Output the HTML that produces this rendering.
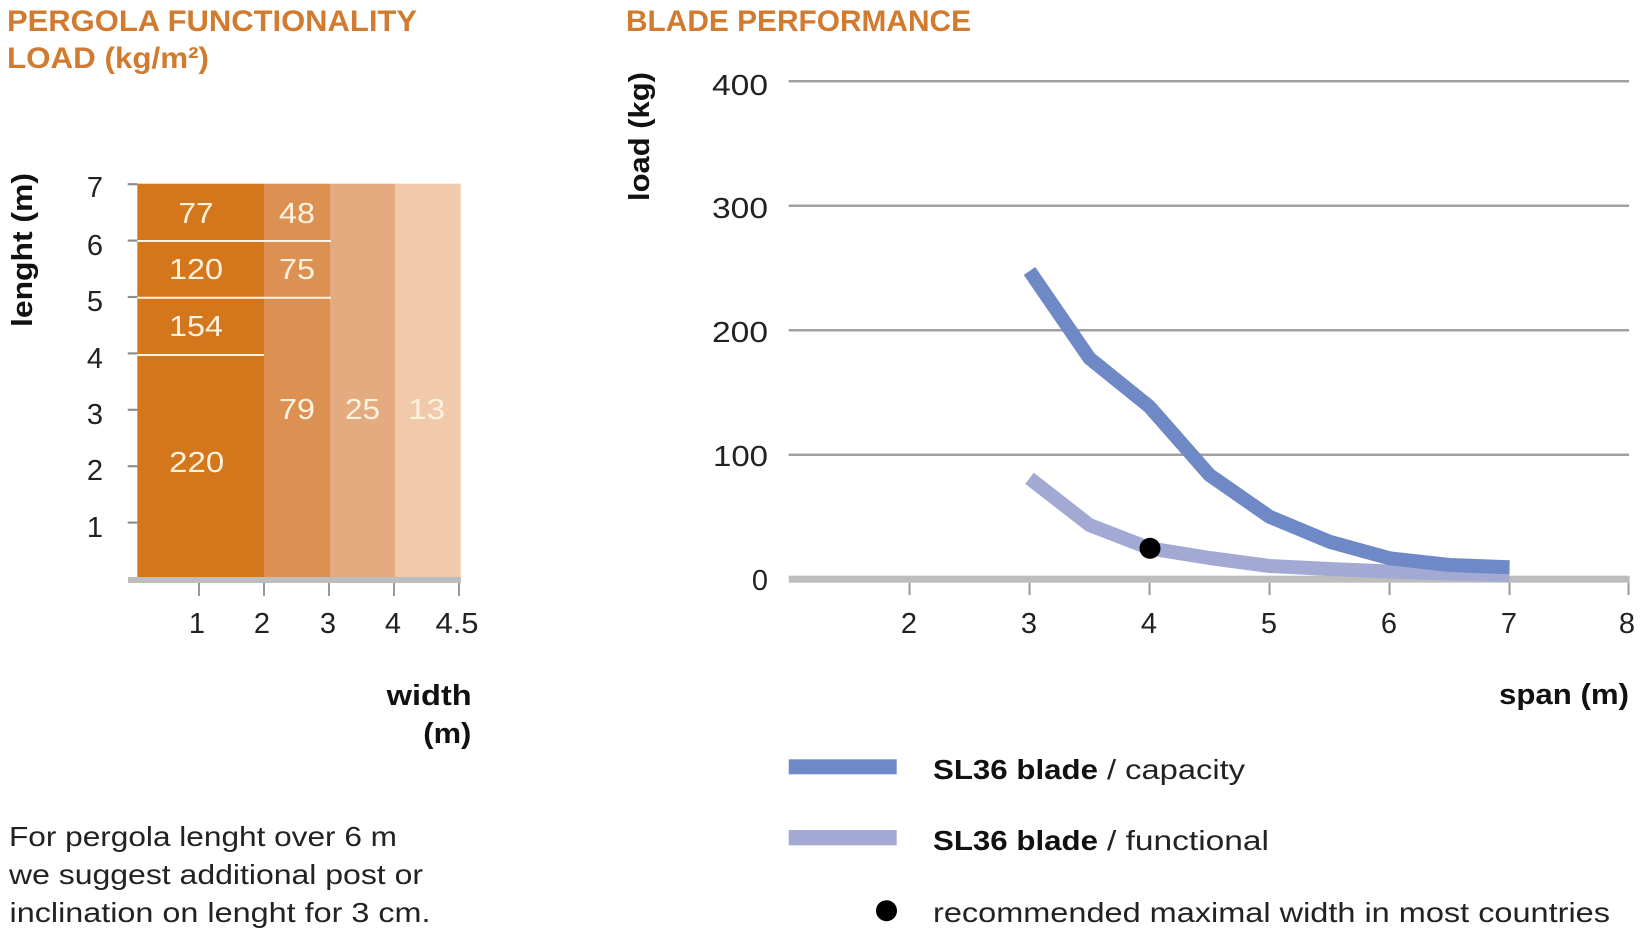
<!DOCTYPE html>
<html>
<head>
<meta charset="utf-8">
<style>
html,body{margin:0;padding:0;background:#fff;}
svg{display:block;}
text{font-family:"Liberation Sans",sans-serif;}
</style>
</head>
<body>
<svg width="1642" height="942" viewBox="0 0 1642 942" xmlns="http://www.w3.org/2000/svg">
  <rect x="0" y="0" width="1642" height="942" fill="#ffffff"/>

  <!-- Titles -->
  <g fill="#D17B30" font-weight="bold" font-size="30">
    <text x="7" y="31" textLength="410" lengthAdjust="spacingAndGlyphs">PERGOLA FUNCTIONALITY</text>
    <text x="7" y="68" textLength="202" lengthAdjust="spacingAndGlyphs">LOAD (kg/m²)</text>
    <text x="626" y="31" textLength="345" lengthAdjust="spacingAndGlyphs">BLADE PERFORMANCE</text>
  </g>

  <!-- ============ LEFT CHART ============ -->
  <!-- y axis title -->
  <text transform="translate(32,250) rotate(-90)" text-anchor="middle" font-weight="bold" font-size="29" fill="#111" textLength="154" lengthAdjust="spacingAndGlyphs">lenght (m)</text>

  <!-- bars -->
  <rect x="137.3" y="183.7" width="126.7" height="394" fill="#D3761C"/>
  <rect x="264" y="183.7" width="66" height="394" fill="#DC9152"/>
  <rect x="330" y="183.7" width="65.3" height="394" fill="#E5AB80"/>
  <rect x="395.3" y="183.7" width="65.4" height="394" fill="#F0CAAB"/>

  <!-- white separators -->
  <g stroke="#FFF3E3" stroke-width="2">
    <line x1="137.3" y1="241" x2="331" y2="241"/>
    <line x1="137.3" y1="297.7" x2="331" y2="297.7"/>
    <line x1="137.3" y1="355" x2="264" y2="355"/>
  </g>

  <!-- value labels -->
  <g fill="#FFF3E0" font-size="29" text-anchor="middle">
    <text x="196" y="223" textLength="35" lengthAdjust="spacingAndGlyphs">77</text>
    <text x="297" y="223" textLength="36" lengthAdjust="spacingAndGlyphs">48</text>
    <text x="196" y="279" textLength="54" lengthAdjust="spacingAndGlyphs">120</text>
    <text x="297" y="279" textLength="36" lengthAdjust="spacingAndGlyphs">75</text>
    <text x="196" y="336" textLength="54" lengthAdjust="spacingAndGlyphs">154</text>
    <text x="297" y="419" textLength="36" lengthAdjust="spacingAndGlyphs">79</text>
    <text x="362.5" y="419" textLength="35" lengthAdjust="spacingAndGlyphs">25</text>
    <text x="426.7" y="419" textLength="37" lengthAdjust="spacingAndGlyphs">13</text>
    <text x="196.7" y="472" textLength="55" lengthAdjust="spacingAndGlyphs">220</text>
  </g>

  <!-- y ticks -->
  <g stroke="#8E8E8E" stroke-width="2.2">
    <line x1="127.7" y1="184.2" x2="137.3" y2="184.2"/>
    <line x1="127.7" y1="240.6" x2="137.3" y2="240.6"/>
    <line x1="127.7" y1="297" x2="137.3" y2="297"/>
    <line x1="127.7" y1="353.4" x2="137.3" y2="353.4"/>
    <line x1="127.7" y1="409.8" x2="137.3" y2="409.8"/>
    <line x1="127.7" y1="466.2" x2="137.3" y2="466.2"/>
    <line x1="127.7" y1="522.6" x2="137.3" y2="522.6"/>
  </g>
  <g fill="#222" font-size="29" text-anchor="middle">
    <text x="95" y="197">7</text>
    <text x="95" y="255">6</text>
    <text x="95" y="311">5</text>
    <text x="95" y="368">4</text>
    <text x="95" y="424">3</text>
    <text x="95" y="480">2</text>
    <text x="95" y="537">1</text>
  </g>

  <!-- x axis -->
  <rect x="128" y="577" width="333" height="6" fill="#BDBDBD"/>
  <g stroke="#999" stroke-width="2">
    <line x1="199" y1="583" x2="199" y2="596"/>
    <line x1="264" y1="583" x2="264" y2="596"/>
    <line x1="329" y1="583" x2="329" y2="596"/>
    <line x1="394" y1="583" x2="394" y2="596"/>
    <line x1="459" y1="583" x2="459" y2="596"/>
  </g>
  <g fill="#222" font-size="29" text-anchor="middle">
    <text x="197" y="633">1</text>
    <text x="262" y="633">2</text>
    <text x="328" y="633">3</text>
    <text x="393" y="633">4</text>
    <text x="457" y="633" textLength="43" lengthAdjust="spacingAndGlyphs">4.5</text>
  </g>
  <g fill="#111" font-weight="bold" font-size="29">
    <text x="386.7" y="705" textLength="85" lengthAdjust="spacingAndGlyphs">width</text>
    <text x="423.3" y="743" textLength="48" lengthAdjust="spacingAndGlyphs">(m)</text>
  </g>

  <!-- note -->
  <g fill="#222" font-size="28">
    <text x="9" y="846" textLength="388" lengthAdjust="spacingAndGlyphs">For pergola lenght over 6 m</text>
    <text x="9" y="884" textLength="414" lengthAdjust="spacingAndGlyphs">we suggest additional post or</text>
    <text x="9.5" y="922" textLength="421" lengthAdjust="spacingAndGlyphs">inclination on lenght for 3 cm.</text>
  </g>

  <!-- ============ RIGHT CHART ============ -->
  <text transform="translate(649,136.5) rotate(-90)" text-anchor="middle" font-weight="bold" font-size="29" fill="#111" textLength="129" lengthAdjust="spacingAndGlyphs">load (kg)</text>

  <!-- grid -->
  <g stroke="#A0A0A0" stroke-width="2.5">
    <line x1="788.7" y1="81.3" x2="1629" y2="81.3"/>
    <line x1="788.7" y1="205.8" x2="1629" y2="205.8"/>
    <line x1="788.7" y1="330.3" x2="1629" y2="330.3"/>
    <line x1="788.7" y1="454.8" x2="1629" y2="454.8"/>
  </g>
  <g fill="#222" font-size="29" text-anchor="end">
    <text x="768" y="95" textLength="56" lengthAdjust="spacingAndGlyphs">400</text>
    <text x="768" y="218" textLength="56" lengthAdjust="spacingAndGlyphs">300</text>
    <text x="768" y="342" textLength="56" lengthAdjust="spacingAndGlyphs">200</text>
    <text x="768" y="466" textLength="55" lengthAdjust="spacingAndGlyphs">100</text>
    <text x="768" y="590">0</text>
  </g>

  <!-- x axis -->
  <rect x="788.7" y="575.7" width="841" height="7" fill="#BDBDBD"/>
  <g stroke="#999" stroke-width="2">
    <line x1="909.5" y1="582.7" x2="909.5" y2="595"/>
    <line x1="1029.5" y1="582.7" x2="1029.5" y2="595"/>
    <line x1="1149.5" y1="582.7" x2="1149.5" y2="595"/>
    <line x1="1269.5" y1="582.7" x2="1269.5" y2="595"/>
    <line x1="1389.5" y1="582.7" x2="1389.5" y2="595"/>
    <line x1="1509.5" y1="582.7" x2="1509.5" y2="595"/>
    <line x1="1628.5" y1="582.7" x2="1628.5" y2="595"/>
  </g>
  <g fill="#222" font-size="29" text-anchor="middle">
    <text x="909" y="633">2</text>
    <text x="1029" y="633">3</text>
    <text x="1149" y="633">4</text>
    <text x="1269" y="633">5</text>
    <text x="1389" y="633">6</text>
    <text x="1509" y="633">7</text>
    <text x="1627" y="633">8</text>
  </g>
  <text x="1499" y="704" font-weight="bold" font-size="29" fill="#111" textLength="130" lengthAdjust="spacingAndGlyphs">span (m)</text>

  <!-- series -->
  <polyline fill="none" stroke="#A2AAD3" stroke-width="14" stroke-linejoin="round" stroke-linecap="butt"
    points="1029.5,478.3 1089.5,525 1149.5,548.3 1209.5,558 1269.5,566 1329.5,569 1389.5,571.5 1449.5,573.5 1509.5,575"/>
  <polyline fill="none" stroke="#6F89C7" stroke-width="14" stroke-linejoin="round" stroke-linecap="butt"
    points="1029.5,271 1089.5,358.3 1149.5,406.7 1209.5,475 1269.5,516.7 1329.5,541.7 1389.5,558.3 1449.5,565 1509.5,567.3"/>
  <circle cx="1150" cy="548.3" r="10.5" fill="#000"/>

  <!-- legend -->
  <rect x="788.7" y="759.3" width="108" height="15" fill="#6F89C7"/>
  <rect x="788.7" y="830" width="108" height="15.3" fill="#A2AAD3"/>
  <circle cx="886.5" cy="910.7" r="10.5" fill="#000"/>
  <g font-size="28">
    <text x="933" y="779" font-weight="bold" fill="#111" textLength="165" lengthAdjust="spacingAndGlyphs">SL36 blade</text>
    <text x="1107" y="779" fill="#222" textLength="138" lengthAdjust="spacingAndGlyphs">/ capacity</text>
    <text x="933" y="850" font-weight="bold" fill="#111" textLength="165" lengthAdjust="spacingAndGlyphs">SL36 blade</text>
    <text x="1107" y="850" fill="#222" textLength="162" lengthAdjust="spacingAndGlyphs">/ functional</text>
    <text x="933" y="922" fill="#222" textLength="677" lengthAdjust="spacingAndGlyphs">recommended maximal width in most countries</text>
  </g>
</svg>
</body>
</html>
